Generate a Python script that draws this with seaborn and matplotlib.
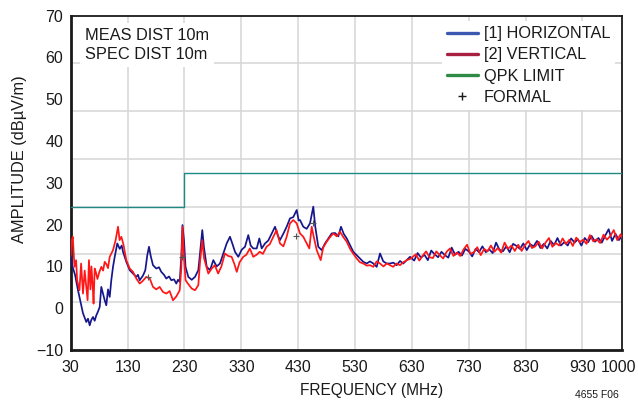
import numpy as np
import pandas as pd
import matplotlib
matplotlib.use("Agg")
import matplotlib.pyplot as plt
import matplotlib.transforms as mtrans
from matplotlib.lines import Line2D
import seaborn as sns

# ---------------- data ----------------
blue_freq_lo = [30, 32, 37.6, 42.8, 47.2, 51.6, 57.4, 60.4, 63.4, 66.2, 69.2, 72.2, 75, 78, 81, 83.8,
                86.8, 89.8, 92.6, 95.6, 98.6, 101.4, 104.4, 107.4, 111.9, 116.2, 119.7, 122, 127.8,
                133.8, 139.6, 145.4, 148.3, 151.3, 157.1, 161.2, 164.7, 167.7, 170.7, 174.7, 180.5,
                185.3, 189.3, 194.1, 198.1, 202.9, 206.9, 211.7, 215.7, 218.7, 221.7, 224.5, 226.6,
                229.2, 231.9, 236.8, 242.8, 248.6, 254.4, 257.4, 261.4, 264.4, 269.2, 275, 280.8,
                286.7, 292.5, 298.3, 304.3, 310.1, 314.9, 318.9, 324.7, 330.7, 336.5, 342.3, 346.5,
                351.1, 357.1, 361.7, 365.9, 371.7, 377.5, 383.5, 389.3, 394, 398, 403.8, 409.8,
                415.6, 421.4, 427.4, 430.9, 433.2, 439, 445, 450.8, 456.6, 460.1, 465.4, 471.4,
                477.2, 483, 489, 494.8, 500.6, 505.3, 510.1, 515.4, 521.1, 527, 532.9, 538.7, 544.5,
                550.5, 556.3, 562.1, 568.1, 573.9, 579.7, 585.7, 591.5, 597.3, 603.3, 609.1, 614.9,
                620.9, 626.7]
blue_amp_lo = [14.5, 10.5, 8.0, 4.3, 1.5, -1.2, -3.3, -2.5, -4.1, -2.8, -2.1, -3.0, -1.7, -0.8, 0.3, 5.1,
               3.5, 1.9, 0.7, 4.5, 2.7, 6.7, 9.9, 12.3, 15.5, 14.2, 15.0, 13.5, 11.1,
               9.1, 8.3, 7.5, 8.0, 6.7, 7.8, 9.1, 12.7, 14.7, 12.5, 10.3, 9.5,
               9.8, 8.7, 8.0, 7.1, 7.6, 6.7, 6.9, 5.9, 6.8, 6.3, 12.3, 19.9,
               16.3, 9.9, 7.5, 6.8, 7.5, 9.1, 13.1, 18.7, 14.5, 9.9, 9.1, 11.5,
               10.0, 10.7, 13.1, 15.5, 17.1, 15.2, 13.5, 12.3, 14.0, 14.7, 17.5, 15.0,
               14.3, 14.3, 16.7, 14.3, 15.5, 16.2, 17.9, 19.5, 17.5, 16.3, 17.8, 19.5,
               21.5, 21.8, 23.5, 21.0, 21.1, 19.5, 19.0, 20.3, 24.3, 19.5, 14.7, 13.9,
               15.5, 16.7, 17.9, 18.0, 17.2, 19.5, 17.8, 16.7, 15.1, 13.5, 12.7, 11.9, 11.1,
               10.7, 11.2, 10.7, 9.9, 13.1, 11.2, 10.7, 10.7, 10.9, 10.3, 11.3, 10.7,
               11.5, 12.3]

red_freq_lo = [30, 31.4, 33.7, 36.6, 39.5, 41.3, 45.4, 48.3, 51.6, 54.6, 57.4, 59.7, 62.1, 64.7, 66.5,
               68.8, 70.2, 72.2, 74.5, 77, 80, 83.8, 87, 89.8, 93, 95.6, 98.6, 104.4, 109, 113.2,
               116, 119.1, 122.8, 127.8, 133.8, 139.6, 145.4, 151.3, 156.5, 163, 169, 174.7,
               180.5, 186.4, 192.2, 198.1, 204, 209.9, 215.7, 221.7, 224.5, 226.6, 229.2, 232,
               236, 242.8, 248.6, 254.4, 257.4, 261.4, 264.4, 272, 278, 283.4, 289.3, 295,
               301.2, 307, 313, 318, 322, 327, 333.5, 339, 345, 351, 357, 362.5, 368, 374.4,
               380, 386.3, 392, 398, 404, 409.8, 415.6, 421.4, 427.4, 433.2, 439, 445, 449.6,
               453.8, 457.5, 462.6, 469.6, 474, 480, 486, 491.9, 497.8, 503.6, 509.5, 515.4,
               521.3, 527, 532.9, 538.7, 544.5, 550.5, 556.3, 562.1, 568, 574, 580, 586, 591.5,
               597, 603, 609, 615, 621, 627]
red_amp_lo = [12.5, 16.0, 17.1, 9.9, 11.5, 6.7, 4.3, 10.7, 3.5, 9.0, 5.0, 1.9, 11.5, 4.5, 10.0,
              5.0, 1.1, 9.5, 8.5, 7.0, 8.5, 9.9, 9.0, 11.1, 10.5, 9.6, 12.3, 13.9, 16.3, 19.5,
              16.3, 17.1, 15.2, 11.5, 9.5, 8.7, 7.1, 5.9, 6.5, 7.5, 7.1, 5.1,
              4.5, 5.1, 3.9, 3.5, 4.1, 1.9, 2.8, 4.3, 9.5, 19.5, 12.0, 6.7,
              5.9, 4.7, 4.3, 5.5, 11.0, 16.3, 12.0, 8.3, 9.5, 10.3, 8.3, 10.0,
              13.1, 12.5, 12.3, 10.5, 8.7, 11.0, 12.3, 12.8, 14.3, 12.3, 12.8, 13.5, 13.0, 14.7,
              15.3, 17.1, 18.7, 15.5, 14.8, 17.1, 20.3, 21.1, 20.3, 17.9, 17.1, 15.5, 14.3,
              19.5, 17.0, 13.9, 11.5, 14.5, 15.9, 17.0, 17.9, 17.2, 18.3, 17.0, 15.9,
              14.2, 13.0, 11.9, 11.0, 10.7, 10.2, 10.3, 9.9, 11.2, 10.7, 10.0, 10.7, 10.3,
              9.9, 10.7, 10.3, 11.0, 11.5, 11.8]

blue_freq_hi = [634, 640, 646, 652, 658, 664, 670, 676, 682, 688, 694, 700, 706, 712, 718, 724, 730,
                736, 742, 748, 754, 760, 766, 772, 778, 784, 790, 796, 802, 808, 814, 820, 826, 832,
                838, 844, 850, 856, 862, 868, 874, 880, 886, 892, 898, 904, 910, 916, 922, 928, 934,
                940, 946, 952, 958, 964, 970, 976, 982, 988, 994, 1000]
blue_amp_hi = [11.4, 13.2, 12.1, 12.8, 11.5, 13.8, 12.9, 12.2, 13.5, 12.7, 12.1, 14.5, 12.8, 13.5,
               12.6, 14.2, 13.6, 12.4, 14.2, 13.4, 14.8, 13.4, 14.1, 13.2, 15.7, 14.0, 13.6, 14.8,
               13.4, 15.4, 14.9, 14.2, 15.5, 13.9, 15.3, 14.8, 16.1, 14.4, 15.4, 14.3, 16.1, 15.1,
               16.8, 15.0, 15.8, 15.0, 16.7, 15.7, 16.5, 15.0, 16.8, 15.8, 17.3, 15.9, 16.8, 15.7,
               17.4, 18.9, 16.1, 17.8, 16.3, 17.4]

red_freq_hi = [637, 643, 649, 655, 661, 667, 673, 679, 685, 691, 697, 703, 709, 715, 721, 727, 733,
               739, 745, 751, 757, 763, 769, 775, 781, 787, 793, 799, 805, 811, 817, 823, 829, 835,
               841, 847, 853, 859, 865, 871, 877, 883, 889, 895, 901, 907, 913, 919, 925, 931, 937,
               943, 949, 955, 961, 967, 973, 979, 985, 991, 997, 1000]
red_amp_hi = [12.9, 11.4, 12.6, 13.6, 12.2, 12.0, 13.6, 12.7, 11.9, 13.5, 14.3, 12.5, 13.3, 12.5,
              14.1, 15.2, 13.0, 13.4, 14.6, 12.7, 14.2, 13.6, 15.0, 13.5, 14.4, 13.3, 15.7, 14.2,
              15.0, 13.7, 15.2, 13.7, 15.1, 16.1, 14.4, 14.8, 15.9, 14.3, 15.7, 16.8, 14.7, 15.6,
              15.0, 16.7, 15.4, 16.4, 14.9, 16.9, 15.8, 16.4, 15.4, 17.5, 16.0, 16.5, 15.6, 17.6,
              16.4, 17.3, 18.7, 16.3, 17.7, 16.8]

limit_freq = [30, 230, 230, 1000]
limit_amp = [24.3, 24.3, 32.25, 32.25]

formal_freq = [166, 226, 425.6, 455.5]
formal_amp = [7.4, 12.3, 17.2, 20.3]

x_ticks = [30, 130, 230, 330, 430, 530, 630, 730, 830, 930, 1000]
x_tick_labels = ["30", "130", "230", "330", "430", "530", "630", "730", "830", "930", "1000"]
y_ticks = [-10, 0, 10, 20, 30, 40, 50, 60, 70]
y_tick_labels = ["\u221210", "0", "10", "20", "30", "40", "50", "60", "70"]

series_labels = ["[1] HORIZONTAL", "[2] VERTICAL", "QPK LIMIT", "FORMAL"]

# ---------------- styling ----------------
sns.set_theme(style="white")
plt.rcParams["font.family"] = ["Liberation Sans", "DejaVu Sans"]
plt.rcParams["axes.unicode_minus"] = True

fig = plt.figure(figsize=(6.38, 4.03), dpi=100)
W, H = 638.0, 403.0
ax = fig.add_axes([70.7 / W, 1 - 350 / H, 551.6 / W, 334.3 / H])

blue_df = pd.DataFrame({"f": blue_freq_lo + blue_freq_hi, "a": blue_amp_lo + blue_amp_hi})
red_df = pd.DataFrame({"f": red_freq_lo + red_freq_hi, "a": red_amp_lo + red_amp_hi})
lim_df = pd.DataFrame({"f": limit_freq, "a": limit_amp})
formal_df = pd.DataFrame({"f": formal_freq, "a": formal_amp})

sns.lineplot(data=blue_df, x="f", y="a", ax=ax, color="#16168c", linewidth=1.25,
             estimator=None, sort=False, zorder=3)
sns.lineplot(data=red_df, x="f", y="a", ax=ax, color="#ff1616", linewidth=1.25,
             estimator=None, sort=False, zorder=4)
sns.lineplot(data=lim_df, x="f", y="a", ax=ax, color="#1f8a84", linewidth=1.0,
             estimator=None, sort=False, zorder=5)
sns.scatterplot(data=formal_df, x="f", y="a", ax=ax, marker="+", s=18, color="#555555",
                linewidth=0.8, zorder=6)

ax.set_xlim(30, 1000)
ax.set_ylim(-10, 70)
ax.set_xticks(x_ticks)
ax.set_xticklabels(x_tick_labels)
ax.set_yticks(y_ticks)
ax.set_yticklabels(y_tick_labels)
ax.set_yticks([70 - 80 * k / 7 for k in range(1, 7)], minor=True)
ax.tick_params(axis="both", which="both", length=0, labelsize=11.5, colors="#1a1a1a")
ax.tick_params(axis="x", pad=7.5)
ax.tick_params(axis="y", pad=5.5)

ax.grid(False)
ax.xaxis.grid(True, which="major", color="#d6d6d6", linewidth=1.1)
ax.yaxis.grid(True, which="minor", color="#d6d6d6", linewidth=1.1)
ax.set_axisbelow(True)

for side, sp in ax.spines.items():
    sp.set_visible(True)
    sp.set_color("#1a1a1a")
    sp.set_linewidth(1.3)
ax.spines["left"].set_linewidth(2.0)
ax.spines["bottom"].set_linewidth(2.0)

last = ax.get_xticklabels()[-1]
last.set_transform(last.get_transform() + mtrans.ScaledTranslation(-4 / 100, 0, fig.dpi_scale_trans))

ax.set_xlabel("FREQUENCY (MHz)", fontsize=11.2, color="#1a1a1a")
ax.xaxis.set_label_coords((371.4 - 70.7) / 551.6, (350 - 382.5) / 334.3)
ax.set_ylabel("AMPLITUDE (dB\u00b5V/m)", fontsize=11.8, color="#1a1a1a")
ax.yaxis.set_label_coords((27 - 70.7) / 551.6, (350 - 159) / 334.3)

ax.text((85 - 70.7) / 551.6, (350 - 28) / 334.3, "MEAS DIST 10m\nSPEC DIST 10m",
        transform=ax.transAxes, ha="left", va="top", fontsize=11.8, color="#1a1a1a",
        linespacing=1.3, zorder=7,
        bbox=dict(boxstyle="square,pad=0.3", facecolor="white", edgecolor="none"))

handles = [
    Line2D([], [], color="#3c58b0", linewidth=2.4),
    Line2D([], [], color="#a82040", linewidth=2.4),
    Line2D([], [], color="#2e8a44", linewidth=2.4),
    Line2D([], [], color="#1a1a1a", linestyle="none", marker="+", markersize=6, markeredgewidth=1.0),
]
leg = ax.legend(handles, series_labels, loc="upper right", bbox_to_anchor=(0.995, 0.995),
                fontsize=11.7, handlelength=1.9, handletextpad=0.4, labelspacing=0.38,
                borderpad=0.3, borderaxespad=0.25, frameon=True, fancybox=False,
                framealpha=1.0, facecolor="white", edgecolor="none")
leg.set_zorder(8)
for t in leg.get_texts():
    t.set_color("#1a1a1a")

fig.text(619 / W, 1 - 395 / H, "4655 F06", ha="right", va="center", fontsize=7.5, color="#1a1a1a")

fig.savefig("out.png", dpi=100)
